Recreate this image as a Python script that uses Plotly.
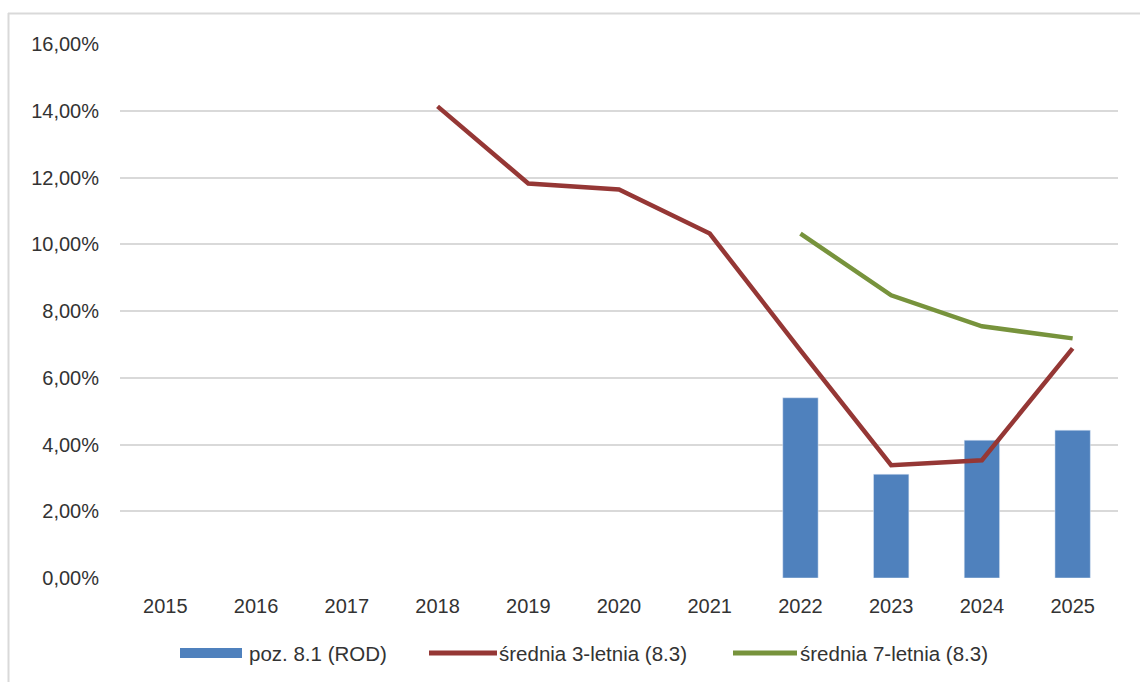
import plotly.graph_objects as go

years = ["2015", "2016", "2017", "2018", "2019", "2020", "2021", "2022", "2023", "2024", "2025"]
bar_years = ["2022", "2023", "2024", "2025"]
poz_81 = [0.0540, 0.0311, 0.0413, 0.0443]
avg3_years = ["2018", "2019", "2020", "2021", "2022", "2023", "2024", "2025"]
avg3 = [0.1413, 0.1182, 0.1164, 0.1032, 0.0682, 0.0338, 0.0353, 0.0688]
avg7_years = ["2022", "2023", "2024", "2025"]
avg7 = [0.1032, 0.0847, 0.0754, 0.0718]
y_ticks = [0, 0.02, 0.04, 0.06, 0.08, 0.10, 0.12, 0.14, 0.16]
y_tick_labels = ["0,00%", "2,00%", "4,00%", "6,00%", "8,00%", "10,00%", "12,00%", "14,00%", "16,00%"]
legend_names = ["poz. 8.1 (ROD)", "średnia 3-letnia (8.3)", "średnia 7-letnia (8.3)"]

BLUE = "#4F81BD"
RED = "#953735"
GREEN = "#77933C"
FONT = "Liberation Sans, Arial, sans-serif"
TXT = "#333333"

W, H = 1140, 682
L, R, T, B = 120, 22, 44, 104
pw, ph = W - L - R, H - T - B

def px(x):
    return (x - L) / pw

def py(y):
    return (H - B - y) / ph

fig = go.Figure()
fig.add_trace(go.Bar(x=bar_years, y=poz_81, name=legend_names[0], marker_color=BLUE,
                     width=0.39, showlegend=False))
fig.add_trace(go.Scatter(x=avg3_years, y=avg3, name=legend_names[1], mode="lines",
                         line=dict(color=RED, width=4.5), showlegend=False))
fig.add_trace(go.Scatter(x=avg7_years, y=avg7, name=legend_names[2], mode="lines",
                         line=dict(color=GREEN, width=4.5), showlegend=False))

shapes = [
    # outer frame (left and top edges visible)
    dict(type="line", xref="paper", yref="paper", x0=px(8), x1=px(1145), y0=py(13.5), y1=py(13.5),
         line=dict(color="#D9D9D9", width=2)),
    dict(type="line", xref="paper", yref="paper", x0=px(8.5), x1=px(8.5), y0=py(13), y1=py(690),
         line=dict(color="#D9D9D9", width=2)),
    # legend swatches
    dict(type="rect", xref="paper", yref="paper", x0=px(180), x1=px(242), y0=py(658), y1=py(648),
         fillcolor=BLUE, line=dict(width=0)),
    dict(type="line", xref="paper", yref="paper", x0=px(429), x1=px(497), y0=py(653), y1=py(653),
         line=dict(color=RED, width=5)),
    dict(type="line", xref="paper", yref="paper", x0=px(733), x1=px(797), y0=py(653), y1=py(653),
         line=dict(color=GREEN, width=5)),
]
annotations = [
    dict(xref="paper", yref="paper", x=px(247), y=py(653), text=legend_names[0], showarrow=False,
         xanchor="left", yanchor="middle", font=dict(family=FONT, size=20.5, color=TXT)),
    dict(xref="paper", yref="paper", x=px(497), y=py(653), text=legend_names[1], showarrow=False,
         xanchor="left", yanchor="middle", font=dict(family=FONT, size=20.5, color=TXT)),
    dict(xref="paper", yref="paper", x=px(798), y=py(653), text=legend_names[2], showarrow=False,
         xanchor="left", yanchor="middle", font=dict(family=FONT, size=20.5, color=TXT)),
]

fig.update_layout(
    width=W, height=H,
    margin=dict(l=L, r=R, t=T, b=B, pad=0),
    paper_bgcolor="white", plot_bgcolor="white",
    font=dict(family=FONT, size=20, color=TXT),
    showlegend=False,
    shapes=shapes,
    annotations=annotations,
    xaxis=dict(type="category", categoryorder="array", categoryarray=years,
               tickvals=years, ticktext=years, range=[-0.5, 10.5],
               showgrid=False, zeroline=False, showline=False, ticks="",
               ticklabelstandoff=14, tickfont=dict(family=FONT, size=20, color=TXT)),
    yaxis=dict(range=[0, 0.16], tickvals=y_ticks, ticktext=y_tick_labels,
               showgrid=True, gridcolor="#D9D9D9", gridwidth=1.5, zeroline=False,
               showline=False, ticks="", ticklabelstandoff=20,
               tickfont=dict(family=FONT, size=20, color=TXT)),
)

fig.write_html(
    "out.html",
    config={"displayModeBar": False},
    post_script="document.body.style.margin='0';document.body.style.overflow='hidden';",
)
